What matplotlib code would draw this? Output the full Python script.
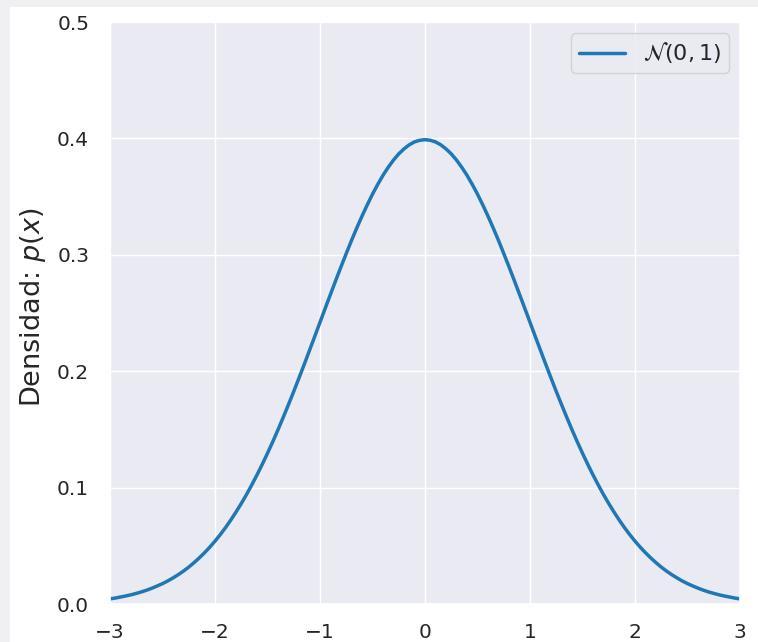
import matplotlib
matplotlib.use("Agg")
import matplotlib.pyplot as plt
import seaborn as sns
from matplotlib.patches import Rectangle

# x grid (step 0.05)
x_values = [-3.00, -2.95, -2.90, -2.85, -2.80, -2.75, -2.70, -2.65, -2.60, -2.55,
            -2.50, -2.45, -2.40, -2.35, -2.30, -2.25, -2.20, -2.15, -2.10, -2.05,
            -2.00, -1.95, -1.90, -1.85, -1.80, -1.75, -1.70, -1.65, -1.60, -1.55,
            -1.50, -1.45, -1.40, -1.35, -1.30, -1.25, -1.20, -1.15, -1.10, -1.05,
            -1.00, -0.95, -0.90, -0.85, -0.80, -0.75, -0.70, -0.65, -0.60, -0.55,
            -0.50, -0.45, -0.40, -0.35, -0.30, -0.25, -0.20, -0.15, -0.10, -0.05,
            0.00,
            0.05, 0.10, 0.15, 0.20, 0.25, 0.30, 0.35, 0.40, 0.45, 0.50,
            0.55, 0.60, 0.65, 0.70, 0.75, 0.80, 0.85, 0.90, 0.95, 1.00,
            1.05, 1.10, 1.15, 1.20, 1.25, 1.30, 1.35, 1.40, 1.45, 1.50,
            1.55, 1.60, 1.65, 1.70, 1.75, 1.80, 1.85, 1.90, 1.95, 2.00,
            2.05, 2.10, 2.15, 2.20, 2.25, 2.30, 2.35, 2.40, 2.45, 2.50,
            2.55, 2.60, 2.65, 2.70, 2.75, 2.80, 2.85, 2.90, 2.95, 3.00]
density = [0.0044, 0.0051, 0.0060, 0.0069, 0.0079, 0.0091, 0.0104, 0.0119, 0.0136, 0.0155,
           0.0175, 0.0198, 0.0224, 0.0252, 0.0283, 0.0317, 0.0355, 0.0396, 0.0440, 0.0488,
           0.0540, 0.0596, 0.0656, 0.0721, 0.0790, 0.0863, 0.0940, 0.1023, 0.1109, 0.1200,
           0.1295, 0.1394, 0.1497, 0.1604, 0.1714, 0.1826, 0.1942, 0.2059, 0.2179, 0.2299,
           0.2420, 0.2541, 0.2661, 0.2780, 0.2897, 0.3011, 0.3123, 0.3230, 0.3332, 0.3429,
           0.3521, 0.3605, 0.3683, 0.3752, 0.3814, 0.3867, 0.3910, 0.3945, 0.3970, 0.3984,
           0.3989,
           0.3984, 0.3970, 0.3945, 0.3910, 0.3867, 0.3814, 0.3752, 0.3683, 0.3605, 0.3521,
           0.3429, 0.3332, 0.3230, 0.3123, 0.3011, 0.2897, 0.2780, 0.2661, 0.2541, 0.2420,
           0.2299, 0.2179, 0.2059, 0.1942, 0.1826, 0.1714, 0.1604, 0.1497, 0.1394, 0.1295,
           0.1200, 0.1109, 0.1023, 0.0940, 0.0863, 0.0790, 0.0721, 0.0656, 0.0596, 0.0540,
           0.0488, 0.0440, 0.0396, 0.0355, 0.0317, 0.0283, 0.0252, 0.0224, 0.0198, 0.0175,
           0.0155, 0.0136, 0.0119, 0.0104, 0.0091, 0.0079, 0.0069, 0.0060, 0.0051, 0.0044]
series_label = r"$\mathcal{N}(0,1)$"
y_label = r"Densidad: $p(x)$"
x_ticks = [-3, -2, -1, 0, 1, 2, 3]
y_ticks = [0.0, 0.1, 0.2, 0.3, 0.4, 0.5]

sns.set_theme(style="darkgrid")
plt.rcParams['font.family'] = ['DejaVu Sans']

W, H = 758, 642
fig = plt.figure(figsize=(W / 100, H / 100), dpi=100)
fig.patch.set_facecolor("white")

# screenshot border strips
fig.patches.append(Rectangle((0, 1 - 7 / H), 1, 7 / H, transform=fig.transFigure,
                             facecolor="#f0f0f3", edgecolor="none", zorder=-1))
fig.patches.append(Rectangle((0, 0), 10 / W, 1, transform=fig.transFigure,
                             facecolor="#f0f0f3", edgecolor="none", zorder=-1))

left, right, top, bottom = 110, 740, 22, 604
ax = fig.add_axes([left / W, (H - bottom) / H, (right - left) / W, (bottom - top) / H])
ax.plot(x_values, density, color="#1f77b4", lw=2.5, label=series_label)
ax.set_xlim(-3, 3)
ax.set_ylim(0, 0.5)
ax.set_xticks(x_ticks)
ax.set_yticks(y_ticks)
ax.tick_params(labelsize=14.5, colors=".15")
ax.tick_params(axis="x", pad=8)
ax.tick_params(axis="y", pad=9)
ax.set_ylabel(y_label, fontsize=19.5, color=".15")
ax.yaxis.set_label_coords((48 - left) / (right - left), 0.51)
ax.legend(loc="upper right", fontsize=16, handlelength=2.1,
          borderaxespad=0.5, borderpad=0.33)

fig.savefig("out.png", dpi=100)
